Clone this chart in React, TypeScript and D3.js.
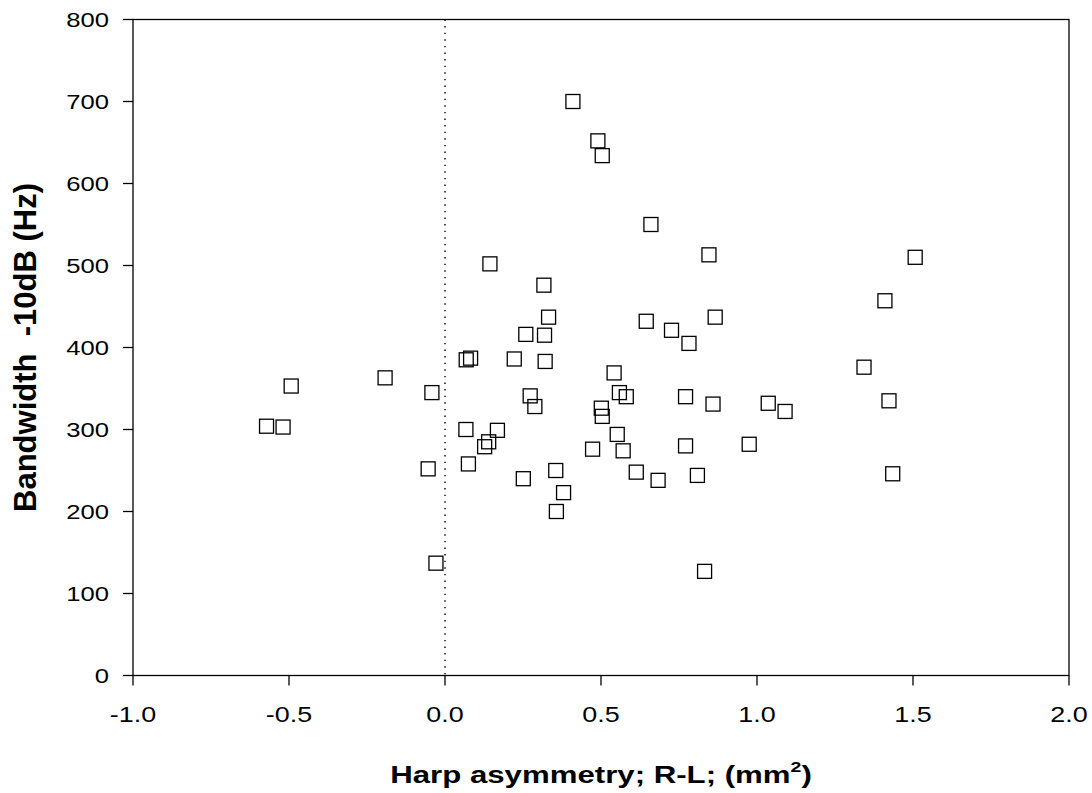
import React from "react";
import * as d3 from "d3";

const asymmetry: number[] = [
  -0.572, -0.519, -0.493, -0.192, -0.054, -0.042, -0.029, 0.067, 0.068, 0.075,
  0.082, 0.127, 0.14, 0.144, 0.168, 0.222, 0.251, 0.259, 0.273, 0.288,
  0.317, 0.319, 0.321, 0.332, 0.355, 0.357, 0.38, 0.41, 0.473, 0.49,
  0.501, 0.504, 0.504, 0.542, 0.552, 0.559, 0.571, 0.581, 0.613, 0.645,
  0.66, 0.683, 0.726, 0.771, 0.771, 0.782, 0.809, 0.832, 0.846, 0.859,
  0.866, 0.975, 1.036, 1.09, 1.343, 1.41, 1.423, 1.435, 1.507,
];
const bandwidth: number[] = [
  304, 303, 353, 363, 252, 345, 137, 300, 385, 258,
  387, 279, 285, 502, 299, 386, 240, 416, 341, 328,
  476, 415, 383, 437, 250, 200, 223, 700, 276, 652,
  326, 316, 634, 369, 294, 345, 274, 340, 248, 432,
  550, 238, 421, 340, 280, 405, 244, 127, 513, 331,
  437, 282, 332, 322, 376, 457, 335, 246, 510,
];
const xTicks: number[] = [-1.0, -0.5, 0.0, 0.5, 1.0, 1.5, 2.0];
const yTicks: number[] = [0, 100, 200, 300, 400, 500, 600, 700, 800];
const xTitle = "Harp asymmetry; R-L; (mm";
const yTitle = "Bandwidth  -10dB (Hz)";

const W = 1092;
const H = 793;
const left = 133;
const right = 1069;
const top = 19.5;
const bottom = 675.5;
const FONT = "'Liberation Sans', Arial, Helvetica, sans-serif";
const SX = 1.25;

const fmtX = (t: number) => t.toFixed(1);

export default function App() {
  const x = d3.scaleLinear().domain([-1, 2]).range([left, right]);
  const y = d3.scaleLinear().domain([0, 800]).range([bottom, top]);
  const pts = asymmetry.map((a, i) => ({ a, b: bandwidth[i] }));
  const m = 14;
  return (
    <svg
      width={W}
      height={H}
      style={{ position: "absolute", left: 0, top: 0, background: "#fff" }}
    >
      <rect x={0} y={0} width={W} height={H} fill="#fff" />
      <line
        x1={x(0)}
        x2={x(0)}
        y1={top}
        y2={bottom}
        stroke="#000"
        strokeWidth={1.4}
        strokeDasharray="1.4 5.2"
      />
      <rect
        x={left}
        y={top}
        width={right - left}
        height={bottom - top}
        fill="none"
        stroke="#000"
        strokeWidth={1.3}
      />
      {xTicks.map((t) => (
        <g key={"x" + t}>
          <line x1={x(t)} x2={x(t)} y1={bottom} y2={bottom + 10} stroke="#000" strokeWidth={1.3} />
          <text
            transform={`translate(${x(t)},${721.5}) scale(${SX},1)`}
            textAnchor="middle"
            fontFamily={FONT}
            fontSize={21.5}
            fill="#000"
          >
            {fmtX(t)}
          </text>
        </g>
      ))}
      {yTicks.map((t) => (
        <g key={"y" + t}>
          <line x1={left - 10} x2={left} y1={y(t)} y2={y(t)} stroke="#000" strokeWidth={1.3} />
          <text
            transform={`translate(${109},${y(t) + 7.6}) scale(${SX},1)`}
            textAnchor="end"
            fontFamily={FONT}
            fontSize={20.5}
            fill="#000"
          >
            {t}
          </text>
        </g>
      ))}
      {pts.map((p, i) => (
        <rect
          key={i}
          x={x(p.a) - m / 2}
          y={y(p.b) - m / 2}
          width={m}
          height={m}
          fill="none"
          stroke="#000"
          strokeWidth={1.3}
        />
      ))}
      <text
        transform={`translate(${(left + right) / 2},${783}) scale(1.3,1)`}
        textAnchor="middle"
        fontFamily={FONT}
        fontSize={24}
        fontWeight="bold"
        fill="#000"
      >
        {xTitle}
        <tspan fontSize={15} dy={-11}>2</tspan>
        <tspan dy={11}>)</tspan>
      </text>
      <text
        transform={`translate(${36},${(top + bottom) / 2}) rotate(-90)`}
        textAnchor="middle"
        fontFamily={FONT}
        fontSize={31}
        fontWeight="bold"
        fill="#000"
        style={{ whiteSpace: "pre" }}
      >
        {yTitle}
      </text>
    </svg>
  );
}
